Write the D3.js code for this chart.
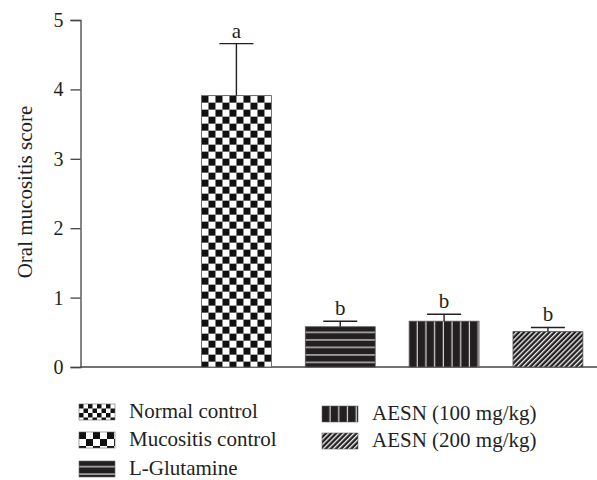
<!DOCTYPE html>
<html>
<head>
<meta charset="utf-8">
<script src="https://cdn.jsdelivr.net/npm/d3@7"></script>
<style>
  body { margin: 0; background: #fff; }
  svg text { font-family: "Liberation Serif", "DejaVu Serif", serif; fill: #231f20; }
</style>
</head>
<body>
<script>
// groups, mean score and error (SEM)
let groups = ["Normal control", "Mucositis control", "L-Glutamine", "AESN (100 mg/kg)", "AESN (200 mg/kg)"];
let scores = [0, 3.91, 0.58, 0.66, 0.51];
let errors = [0, 0.75, 0.08, 0.10, 0.06];
let letters = ["", "a", "b", "b", "b"];
let patternKind = ["fine", "checker", "hlines", "vlines", "diag"];
let yTicks = [0, 1, 2, 3, 4, 5];

let width = 597,
    height = 480,
    ink = "#231f20";

let svg = d3.select("body").append("svg")
    .attr("width", width)
    .attr("height", height);

let defs = svg.append("defs");

let x = d3.scaleBand()
    .domain(groups)
    .range([80.5, 600])
    .paddingInner(0.327)
    .paddingOuter(0.165);

let y = d3.scaleLinear()
    .domain([0, 5])
    .range([367, 20]);

// make a fill pattern anchored at (x0, y0)
let makePattern = (id, kind, x0, y0) => {
  let p = defs.append("pattern")
      .attr("id", id)
      .attr("patternUnits", "userSpaceOnUse")
      .attr("x", x0)
      .attr("y", y0);
  if (kind == "checker" || kind == "fine") {
    let s = kind == "checker" ? 7 : 4.5;
    p.attr("width", s * 2).attr("height", s * 2);
    p.append("rect").attr("width", s * 2).attr("height", s * 2).attr("fill", "#fff");
    p.append("rect").attr("width", s).attr("height", s).attr("fill", "#111");
    p.append("rect").attr("x", s).attr("y", s).attr("width", s).attr("height", s).attr("fill", "#111");
  } else if (kind == "hlines") {
    p.attr("width", 10).attr("height", 7.5);
    p.append("rect").attr("width", 10).attr("height", 7.5).attr("fill", "#231f20");
    p.append("rect").attr("y", 5).attr("width", 10).attr("height", 1.3).attr("fill", "#d0d0d0");
  } else if (kind == "vlines") {
    p.attr("width", 8.7).attr("height", 10);
    p.append("rect").attr("width", 8.7).attr("height", 10).attr("fill", "#231f20");
    p.append("rect").attr("x", 7.5).attr("width", 1.3).attr("height", 10).attr("fill", "#d8d8d8");
  } else {
    p.attr("width", 3.6).attr("height", 10)
     .attr("patternTransform", "rotate(45)");
    p.append("rect").attr("width", 3.6).attr("height", 10).attr("fill", "#231f20");
    p.append("rect").attr("width", 1.3).attr("height", 10).attr("fill", "#f2f2f2");
  }
};

// y axis
let yAxis = svg.append("g")
    .attr("transform", "translate(80.5,0)")
    .call(d3.axisLeft(y).tickValues(yTicks).tickFormat(d3.format("d")).tickSize(10).tickPadding(7));
yAxis.select(".domain").attr("stroke", "#444").attr("stroke-width", 1.3);
yAxis.selectAll(".tick line").attr("stroke", "#444").attr("stroke-width", 1.3);
yAxis.selectAll(".tick text")
    .attr("font-size", 20)
    .style("font-family", "Liberation Serif")
    .attr("fill", ink);

// baseline
svg.append("line")
    .attr("x1", 80.5).attr("x2", width)
    .attr("y1", y(0)).attr("y2", y(0))
    .attr("stroke", "#444")
    .attr("stroke-width", 1.3);

svg.append("text")
    .attr("transform", "translate(32,192) rotate(-90)")
    .attr("text-anchor", "middle")
    .attr("font-size", 21)
    .text("Oral mucositis score");

// bars
groups.forEach((g, i) => {
  let id = "bar" + i;
  makePattern(id, patternKind[i], x(g), y(scores[i]));
  if (scores[i] > 0) {
    svg.append("rect")
        .attr("x", x(g))
        .attr("y", y(scores[i]))
        .attr("width", x.bandwidth())
        .attr("height", y(0) - y(scores[i]))
        .attr("fill", `url(#${id})`)
        .attr("stroke", "#555")
        .attr("stroke-width", 0.8);
  }
});

// error bars and letters
groups.forEach((g, i) => {
  if (scores[i] == 0) return;
  let cx = x(g) + x.bandwidth() / 2;
  let top = y(scores[i] + errors[i]);
  svg.append("line")
      .attr("x1", cx).attr("x2", cx)
      .attr("y1", y(scores[i])).attr("y2", top)
      .attr("stroke", ink).attr("stroke-width", 1.4);
  svg.append("line")
      .attr("x1", cx - 17).attr("x2", cx + 17)
      .attr("y1", top).attr("y2", top)
      .attr("stroke", ink).attr("stroke-width", 1.4);
  svg.append("text")
      .attr("x", cx)
      .attr("y", top - 6)
      .attr("text-anchor", "middle")
      .attr("font-size", 21)
      .text(letters[i]);
});

// legend
let legendPos = [[79, 412], [79, 440], [79, 469], [322, 414], [322, 441]];
groups.forEach((g, i) => {
  let [lx, ly] = legendPos[i];
  let id = "leg" + i;
  makePattern(id, patternKind[i], lx, ly - 8);
  svg.append("rect")
      .attr("x", lx)
      .attr("y", ly - 8)
      .attr("width", 36)
      .attr("height", 16)
      .attr("fill", `url(#${id})`)
      .attr("stroke", "#666")
      .attr("stroke-width", 0.6);
  svg.append("text")
      .attr("x", lx + 50)
      .attr("y", ly + 6)
      .attr("font-size", 21)
      .text(g);
});
</script>
</body>
</html>
